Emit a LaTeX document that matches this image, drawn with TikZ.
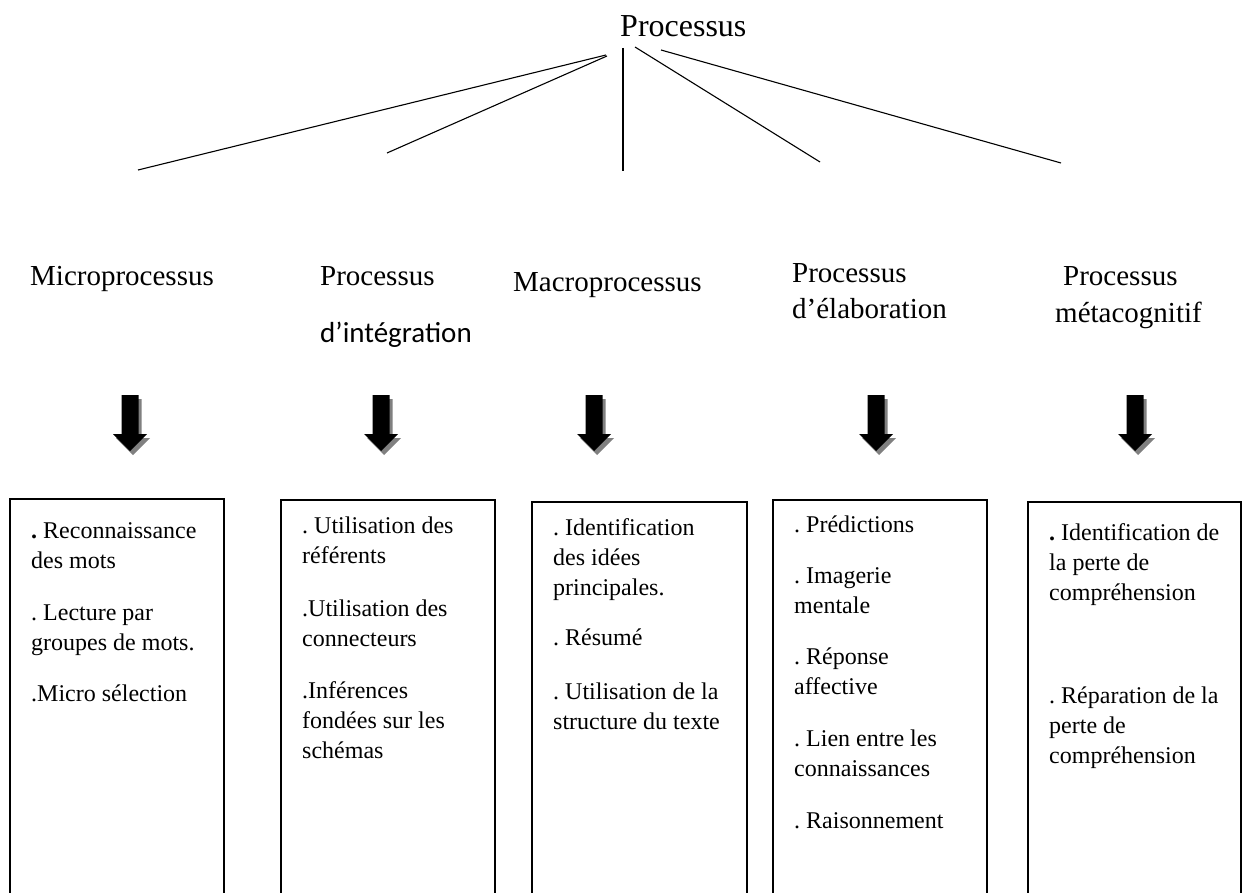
\documentclass[tikz,border=0pt]{standalone}
\usepackage{fontspec}
\setmainfont{Liberation Serif}
\newfontfamily\calibrifont{Carlito}
\usetikzlibrary{positioning}
\frenchspacing

\begin{document}
\begin{tikzpicture}[x=1pt,y=1pt,yscale=-1,xscale=1]
  \useasboundingbox (0,0) rectangle (1244,893);
  \tikzstyle{branch} = [line width=1.1pt]
  \tikzstyle{frame} = [line width=1.3pt]
  \tikzstyle{shadow} = [fill=black!50]
  \tikzstyle{title} = [inner sep=0pt,align=left,font=\fontsize{29}{36}\selectfont]
  \tikzstyle{item} = [anchor=north west,inner sep=0pt,align=left,font=\fontsize{24}{30}\selectfont]

  % Label the root
  \node (root) [anchor=base west,inner sep=0pt,font=\fontsize{32}{38}\selectfont] at (620,37) {Processus};

  %Draw the branches
  \coordinate (fromMicro) at (606,55);
  \coordinate (toMicro) at (138,170);
  \coordinate (fromInteg) at (607,56);
  \coordinate (toInteg) at (387,153);
  \coordinate (fromMacro) at (623,48);
  \coordinate (toMacro) at (623,171);
  \coordinate (fromElab) at (635,47);
  \coordinate (toElab) at (820,162);
  \coordinate (fromMeta) at (661,50);
  \coordinate (toMeta) at (1061,163);
  \draw [branch] (fromMicro) -- (toMicro);
  \draw [branch] (fromInteg) -- (toInteg);
  \draw [branch] (fromMacro) -- (toMacro);
  \draw [branch] (fromElab) -- (toElab);
  \draw [branch] (fromMeta) -- (toMeta);

  % Label the processes
  \node (micro) [title,anchor=base west] at (30,285) {Microprocessus};
  \node (integ) [title,anchor=north west] at (320,259.8) {\strut Processus\\[21pt]{\calibrifont d’intégration}};
  \node (macro) [title,anchor=base west] at (513,291) {Macroprocessus};
  \node (elab) [title,anchor=north west] at (792,256.8) {\strut Processus\\d’élaboration};
  \node (meta) [title,anchor=north west] at (1055,259.8) {\strut\hspace*{8pt}Processus\\[1pt]métacognitif};

  % Draw the block arrows
  \foreach \x in {130,381,594,876,1135}{
    \fill [shadow] (\x-5.5,399) -- (\x+11.5,399) -- (\x+11.5,438) -- (\x+20,438) -- (\x+3,455) -- (\x-14,438) -- (\x-5.5,438) -- cycle;
    \fill [black] (\x-8.5,395) -- (\x+8.5,395) -- (\x+8.5,434) -- (\x+17,434) -- (\x,451) -- (\x-17,434) -- (\x-8.5,434) -- cycle;
  }

  % Draw the boxes
  \draw [frame] (10,893) -- (10,499) -- (224,499) -- (224,893);
  \draw [frame] (281,893) -- (281,500) -- (495,500) -- (495,893);
  \draw [frame] (532,893) -- (532,502) -- (747,502) -- (747,893);
  \draw [frame] (773,893) -- (773,500) -- (987,500) -- (987,893);
  \draw [frame] (1028,893) -- (1028,502) -- (1241,502) -- (1241,893);

  % Label the boxes
  \node (microList) [item] at (31,517) {\strut\textbf{.} Reconnaissance\\des mots\\[22pt]. Lecture par\\groupes de mots.\\[21pt].Micro sélection};
  \node (integList) [item] at (302,512) {\strut. Utilisation des\\référents\\[23pt].Utilisation des\\connecteurs\\[22pt].Inférences\\fondées sur les\\schémas};
  \node (macroList) [item] at (553,514) {\strut. Identification\\des idées\\principales.\\[20pt]. Résumé\\[24pt]. Utilisation de la\\structure du texte};
  \node (elabList) [item] at (794,511) {\strut. Prédictions\\[21pt]. Imagerie\\mentale\\[21pt]. Réponse\\affective\\[22pt]. Lien entre les\\connaissances\\[22pt]. Raisonnement};
  \node (metaList) [item] at (1049,519) {\strut\textbf{.} Identification de\\la perte de\\compréhension\\[73pt]. Réparation de la\\perte de\\compréhension};
\end{tikzpicture}
\end{document}
